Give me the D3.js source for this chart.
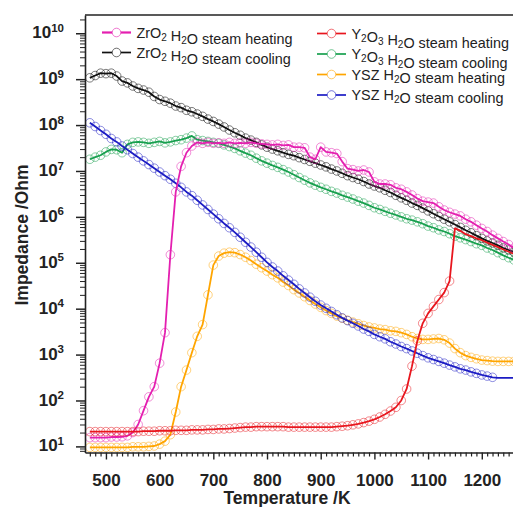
<!DOCTYPE html>
<html><head><meta charset="utf-8">
<script src="https://cdn.jsdelivr.net/npm/d3@7/dist/d3.min.js"></script>
<style>
body{margin:0;background:#fff;overflow:hidden}
svg{display:block;font-family:"Liberation Sans",Arial,Helvetica,sans-serif}
</style>
</head><body>
<svg id="chart" width="513" height="507"></svg>
<script>
// ---------- DATA ----------
const temperatures = [470,480,490,500,510,520,530,540,550,560,
  570,580,590,600,610,620,630,640,650,660,
  670,680,690,700,710,720,730,740,750,760,
  770,780,790,800,810,820,830,840,850,860,
  870,880,890,900,910,920,930,940,950,960,
  970,980,990,1000,1010,1020,1030,1040,1050,1060,
  1070,1080,1090,1100,1110,1120,1130,1140,1150,1160,
  1170,1180,1190,1200,1210,1220,1230,1240,1250,1260];

const zro2Heating = [15.5,15.5,15.5,15.5,16,16,16.2,17,20,30,
  60,120,200,650,3000,1.5e5,3.5e6,1.26e7,2.5e7,3.5e7,
  4.2e7,4.0e7,4.2e7,4.0e7,4.1e7,4.0e7,4.2e7,4.0e7,4.1e7,4.0e7,
  4.2e7,4.0e7,3.9e7,3.8e7,3.7e7,3.8e7,3.6e7,3.7e7,3.3e7,3.3e7,
  3.2e7,2.0e7,1.8e7,3.3e7,2.6e7,2.5e7,2.4e7,1.6e7,1.12e7,1.07e7,
  1.0e7,1.05e7,9.5e6,5.8e6,5.2e6,5.2e6,5.0e6,4.3e6,4.0e6,3.5e6,
  3.0e6,2.5e6,2.2e6,2.1e6,2.0e6,1.66e6,1.41e6,1.26e6,1.15e6,1.05e6,
  8.9e5,7.8e5,6.6e5,5.6e5,4.8e5,4.0e5,3.4e5,2.9e5,2.5e5,2.1e5];

const zro2Cooling = [1.07e9,1.20e9,1.35e9,1.32e9,1.35e9,1.17e9,9.1e8,8.3e8,7.1e8,6.3e8,
  5.8e8,5.2e8,4.2e8,3.6e8,3.3e8,3.0e8,2.6e8,2.4e8,2.1e8,1.95e8,
  1.74e8,1.55e8,1.35e8,1.20e8,1.05e8,9.1e7,7.8e7,6.8e7,6.0e7,5.2e7,
  4.7e7,4.2e7,3.7e7,3.3e7,3.0e7,2.75e7,2.5e7,2.3e7,2.15e7,1.95e7,
  1.78e7,1.62e7,1.48e7,1.35e7,1.23e7,1.10e7,1.0e7,8.9e6,7.9e6,7.2e6,
  6.6e6,5.9e6,5.2e6,4.7e6,4.3e6,3.8e6,3.4e6,2.95e6,2.6e6,2.3e6,
  2.0e6,1.78e6,1.55e6,1.35e6,1.17e6,1.02e6,8.9e5,7.8e5,6.8e5,5.9e5,
  5.1e5,4.5e5,3.9e5,3.4e5,3.0e5,2.7e5,2.4e5,2.1e5,1.9e5,1.7e5];

const y2o3Heating = [21,21,21,21,21,21,21,21,21,21,
  21.4,21.4,21.4,21.9,21.9,21.9,22.4,22.4,22.4,22.9,
  22.9,22.9,23.4,23.4,24,24,24.5,25.1,25.7,26.3,
  26.3,26.9,26.9,26.9,26.9,26.9,26.9,26.3,26.3,26.3,
  26.3,26.3,26.3,26.3,26.3,26.3,26.9,27.5,28.2,29.5,
  30.9,33,35.5,38.9,43.7,50,59,71,100,178,
  560,2000,4800,7900,1.12e4,1.58e4,2.24e4,4.0e4,5.6e5,5.0e5,
  4.2e5,3.8e5,3.4e5,3.1e5,2.75e5,2.45e5,2.2e5,1.95e5,1.74e5,1.55e5];

const y2o3Cooling = [1.8e7,2.0e7,2.2e7,2.6e7,2.95e7,2.9e7,2.5e7,3.8e7,4.2e7,4.3e7,
  4.2e7,4.0e7,4.2e7,4.4e7,4.1e7,4.3e7,4.6e7,4.8e7,5.2e7,5.8e7,
  4.8e7,4.6e7,4.4e7,4.2e7,4.0e7,3.7e7,3.4e7,3.1e7,2.75e7,2.45e7,
  2.2e7,1.9e7,1.66e7,1.48e7,1.32e7,1.2e7,1.07e7,9.5e6,8.3e6,7.2e6,
  6.3e6,5.5e6,4.9e6,4.4e6,4.0e6,3.6e6,3.3e6,2.95e6,2.7e6,2.45e6,
  2.2e6,2.0e6,1.78e6,1.58e6,1.45e6,1.32e6,1.2e6,1.1e6,1.0e6,9.1e5,
  8.5e5,7.8e5,7.1e5,6.3e5,5.8e5,5.2e5,4.8e5,4.3e5,3.8e5,3.5e5,
  3.2e5,2.9e5,2.6e5,2.4e5,2.1e5,1.9e5,1.66e5,1.45e5,1.29e5,1.15e5];

const yszHeating = [9.5,9.5,9.5,9.5,9.5,9.5,9.5,9.5,9.8,9.8,
  9.8,10,10.2,11.2,13,18,56,200,460,1100,
  2500,4500,2.0e4,8.9e4,1.4e5,1.62e5,1.7e5,1.66e5,1.51e5,1.32e5,
  1.12e5,9.3e4,7.8e4,6.6e4,5.5e4,4.7e4,3.8e4,3.2e4,2.6e4,2.2e4,
  1.82e4,1.51e4,1.26e4,1.07e4,9.1e3,7.9e3,6.9e3,6.2e3,5.6e3,5.1e3,
  4.7e3,4.3e3,4.0e3,3.8e3,3.6e3,3.5e3,3.3e3,3.2e3,3.0e3,2.75e3,
  2.45e3,2.24e3,2.14e3,2.14e3,2.19e3,2.24e3,2.1e3,1.78e3,1.35e3,1.1e3,
  950,870,810,760,740,720,710,710,710,710];

const yszCooling = [1.12e8,9.3e7,7.6e7,6.3e7,5.1e7,4.3e7,3.5e7,2.9e7,2.4e7,2.0e7,
  1.66e7,1.38e7,1.15e7,9.5e6,7.9e6,6.6e6,5.4e6,4.4e6,3.5e6,2.9e6,
  2.3e6,1.82e6,1.45e6,1.15e6,9.1e5,7.2e5,5.8e5,4.6e5,3.6e5,2.8e5,
  2.2e5,1.7e5,1.32e5,1.02e5,8.1e4,6.6e4,5.2e4,4.2e4,3.4e4,2.7e4,
  2.2e4,1.78e4,1.45e4,1.2e4,1.02e4,8.7e3,7.4e3,6.3e3,5.5e3,4.8e3,
  4.2e3,3.6e3,3.2e3,2.75e3,2.45e3,2.2e3,1.9e3,1.7e3,1.5e3,1.35e3,
  1.2e3,1.07e3,950,850,780,710,650,590,540,490,
  460,420,390,360,340,320,310,310,310,310];

const seriesLabels = ["ZrO_2 H_2O steam heating","ZrO_2 H_2O steam cooling",
  "Y_2O_3 H_2O steam heating","Y_2O_3 H_2O steam cooling",
  "YSZ H_2O steam heating","YSZ H_2O steam cooling"];
const seriesValues = [zro2Heating, zro2Cooling, y2o3Heating, y2o3Cooling, yszHeating, yszCooling];
const seriesColors = ["#e41fb0","#111111","#e8161e","#17a04e","#ffa500","#1c1cc4"];
const markerLastTemperature = [1260,1260,1140,1260,1260,1220];
const drawOrder = [3,1,4,5,0,2];

const xTickMajor = [500,600,700,800,900,1000,1100,1200];
const yTickExponents = [1,2,3,4,5,6,7,8,9,10];

// ---------- CHART ----------
const svg = d3.select("#chart");
const L = 85, T = 15, B = 452.5, R = 514;
const x = d3.scaleLinear().domain([461,1260]).range([L,R]);
const y = d3.scaleLog().domain([7.36,2.5e10]).range([B,T]);

svg.append("clipPath").attr("id","clip").append("rect")
  .attr("x",L).attr("y",T).attr("width",R-L).attr("height",B-T);

// series
const plotG = svg.append("g").attr("clip-path","url(#clip)");
const line = d3.line().x(d=>x(d[0])).y(d=>y(d[1]));
drawOrder.forEach(i=>{
  const pts = temperatures.map((t,k)=>[t, seriesValues[i][k]]).filter(d=>d[1]!=null);
  const g = plotG.append("g");
  g.selectAll("circle").data(pts.filter(d=>d[0]<=markerLastTemperature[i])).join("circle")
    .attr("cx",d=>x(d[0])).attr("cy",d=>y(d[1])).attr("r",4.3)
    .attr("fill","none").attr("stroke",seriesColors[i])
    .attr("stroke-opacity",i===1?0.55:0.5).attr("stroke-width",1);
  g.append("path").datum(pts).attr("d",line).attr("fill","none")
    .attr("stroke",seriesColors[i]).attr("stroke-width",1.8).attr("stroke-linejoin","round");
});

// x axis
const minorX = d3.range(470,1261,10).filter(t=>!xTickMajor.includes(t));
svg.append("g").attr("transform",`translate(0,${B})`)
  .call(d3.axisBottom(x).tickValues(minorX).tickSize(4).tickSizeOuter(0).tickFormat(""))
  .call(g=>g.select(".domain").remove())
  .call(g=>g.selectAll("line").attr("stroke","#222").attr("stroke-width",1.2));
svg.append("g").attr("transform",`translate(0,${B})`)
  .call(d3.axisBottom(x).tickValues(xTickMajor).tickSize(7).tickSizeOuter(0).tickPadding(14).tickFormat(d3.format("d")))
  .call(g=>g.select(".domain").attr("stroke","#222").attr("stroke-width",1.6))
  .call(g=>g.selectAll("line").attr("stroke","#222").attr("stroke-width",1.4))
  .call(g=>g.selectAll("text").attr("font-size",17).attr("font-weight","bold").attr("fill","#222")
    .attr("font-family","Liberation Sans, Arial, sans-serif"));

// y axis
const minorY = [];
for (let e=0;e<=10;e++) for (let m=2;m<=9;m++){ const v=m*Math.pow(10,e); if(v>=7.36&&v<=2.5e10) minorY.push(v); }
svg.append("g").attr("transform",`translate(${L},0)`)
  .call(d3.axisLeft(y).tickValues(minorY).tickSize(5).tickSizeOuter(0).tickFormat(""))
  .call(g=>g.select(".domain").remove())
  .call(g=>g.selectAll("line").attr("stroke","#222").attr("stroke-width",1));
const yAx = svg.append("g").attr("transform",`translate(${L},0)`)
  .call(d3.axisLeft(y).tickValues(yTickExponents.map(e=>Math.pow(10,e))).tickSize(9).tickSizeOuter(0).tickPadding(12).tickFormat(""))
  .call(g=>g.select(".domain").attr("stroke","#222").attr("stroke-width",1.6))
  .call(g=>g.selectAll("line").attr("stroke","#222").attr("stroke-width",1.5));
yAx.selectAll(".tick text").each(function(d){
  const t = d3.select(this).attr("font-size",17).attr("font-weight","bold").attr("fill","#222")
    .attr("font-family","Liberation Sans, Arial, sans-serif").attr("dy","0.27em");
  t.append("tspan").text("10");
  t.append("tspan").attr("font-size",11.5).attr("dy",-6.5).text(Math.round(Math.log10(d)));
});

// top border
svg.append("line").attr("x1",L).attr("x2",R).attr("y1",T).attr("y2",T)
  .attr("stroke","#222").attr("stroke-width",1.6);

// axis titles
svg.append("text").attr("x",287).attr("y",504).attr("text-anchor","middle")
  .attr("font-size",17.5).attr("font-weight","bold").attr("fill","#222").text("Temperature /K");
svg.append("text").attr("transform","translate(27.5,235) rotate(-90)").attr("text-anchor","middle")
  .attr("font-size",17.5).attr("font-weight","bold").attr("fill","#222").text("Impedance /Ohm");

// legend
const legendPos = [[102,32.5],[102,52.5],[317,33.5],[317,54],[317,74.5],[317,95]];
function addLabel(sel, label){
  const parts = label.split(/_(\d)/);
  parts.forEach((p,k)=>{
    if(!p) return;
    if(k%2===1){
      sel.append("tspan").attr("font-size",10).attr("dy",3).text(p);
      sel.append("tspan").attr("dy",-3).text("");
    } else sel.append("tspan").text(p);
  });
}
seriesLabels.forEach((lab,i)=>{
  const [lx,ly] = legendPos[i];
  const g = svg.append("g");
  g.append("line").attr("x1",lx).attr("x2",lx+29).attr("y1",ly).attr("y2",ly)
    .attr("stroke",seriesColors[i]).attr("stroke-width",i===0?2.2:1.7);
  g.append("circle").attr("cx",lx+14.5).attr("cy",ly).attr("r",4.3).attr("fill","#fff")
    .attr("stroke",seriesColors[i]).attr("stroke-opacity",0.6).attr("stroke-width",1);
  const t = g.append("text").attr("x",lx+34.5).attr("y",ly+5).attr("font-size",14.4).attr("fill","#222");
  addLabel(t, lab);
});
</script>
</body></html>
